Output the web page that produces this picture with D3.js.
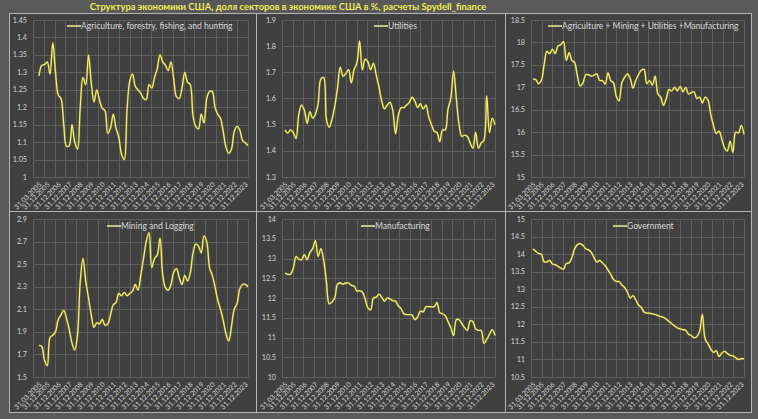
<!DOCTYPE html>
<html><head><meta charset="utf-8">
<script src="https://cdn.jsdelivr.net/npm/d3@7"></script>
<style>
html,body{margin:0;padding:0;background:#5a5a5a;}
svg{display:block;font-family:Lato,"Open Sans",sans-serif;}
</style></head>
<body><svg id="c" width="758" height="419"></svg>
<script>
const chartTitle = "Структура экономики США, доля секторов в экономике США в %, расчеты Spydell_finance";
const xLabels = ["31.03.2005","31.12.2005","31.12.2006","31.12.2007","31.12.2008","31.12.2009","31.12.2010","31.12.2011","31.12.2012","31.12.2013","31.12.2014","31.12.2015","31.12.2016","31.12.2017","31.12.2018","31.12.2019","31.12.2020","31.12.2021","31.12.2022","31.12.2023"];
const xLabelIndex = [0,3,7,11,15,19,23,27,31,35,39,43,47,51,55,59,63,67,71,75];
const seriesNames = ["Agriculture, forestry, fishing, and hunting","Utilities","Agriculture + Mining + Utilities +Manufacturing","Mining and Logging","Manufacturing","Government"];

const agriculture = [1.29,1.32,1.322,1.33,1.295,1.385,1.30,1.235,1.225,1.15,1.088,1.09,1.15,1.10,1.08,1.20,1.285,1.265,1.35,1.27,1.215,1.25,1.22,1.197,1.19,1.125,1.14,1.18,1.14,1.115,1.065,1.05,1.19,1.275,1.295,1.26,1.25,1.24,1.225,1.222,1.265,1.255,1.285,1.31,1.35,1.33,1.32,1.305,1.33,1.28,1.23,1.225,1.255,1.30,1.272,1.265,1.175,1.145,1.138,1.18,1.155,1.225,1.245,1.245,1.20,1.18,1.168,1.13,1.085,1.068,1.08,1.13,1.145,1.135,1.105,1.098,1.09];
const utilities = [1.48,1.468,1.48,1.47,1.447,1.54,1.575,1.555,1.505,1.55,1.525,1.54,1.58,1.675,1.68,1.52,1.49,1.52,1.57,1.64,1.72,1.685,1.695,1.71,1.66,1.71,1.735,1.82,1.71,1.75,1.74,1.71,1.735,1.69,1.645,1.59,1.56,1.575,1.585,1.555,1.465,1.535,1.565,1.565,1.575,1.585,1.605,1.59,1.565,1.58,1.56,1.575,1.53,1.50,1.475,1.47,1.435,1.48,1.48,1.56,1.60,1.705,1.60,1.50,1.455,1.46,1.455,1.43,1.41,1.47,1.41,1.43,1.44,1.61,1.47,1.525,1.50];
const aggregate = [17.18,17.17,17.08,17.15,17.50,17.80,17.75,17.85,17.75,17.92,17.95,18.02,17.60,17.77,17.60,17.55,17.25,17.03,17.10,17.28,17.28,17.25,17.27,17.30,17.15,17.15,17.07,17.32,17.15,17.10,16.80,16.70,17.10,17.22,17.30,17.20,16.98,17.15,17.28,17.38,17.40,17.08,17.15,17.05,17.25,16.85,16.78,16.60,16.75,16.95,16.92,17.00,16.92,17.02,16.90,17.00,16.85,16.88,16.90,16.75,16.78,16.65,16.78,16.72,16.40,16.15,15.97,16.02,15.85,15.65,15.58,15.80,15.55,16.00,15.98,16.15,15.95];
const mining = [1.78,1.77,1.65,1.60,1.85,1.87,1.90,2.01,2.05,2.09,2.02,1.92,1.80,1.74,1.87,2.35,2.55,2.35,2.20,2.05,1.94,1.98,1.97,2.01,1.96,1.97,2.05,2.14,2.16,2.24,2.22,2.25,2.22,2.24,2.26,2.32,2.27,2.40,2.55,2.70,2.78,2.47,2.55,2.58,2.73,2.40,2.29,2.27,2.32,2.43,2.46,2.38,2.32,2.40,2.35,2.42,2.60,2.68,2.66,2.60,2.75,2.70,2.47,2.40,2.30,2.18,2.10,2.00,1.88,1.82,1.95,2.10,2.15,2.28,2.32,2.32,2.30];
const manufacturing = [12.63,12.60,12.60,12.75,13.05,12.98,12.97,13.10,12.97,13.15,13.25,13.45,13.05,13.25,12.95,12.40,11.85,11.90,12.00,12.35,12.38,12.35,12.38,12.38,12.32,12.30,12.18,12.18,12.15,11.98,11.75,11.70,12.00,12.02,12.10,12.02,11.92,12.00,11.98,11.93,11.92,11.80,11.73,11.60,11.58,11.58,11.57,11.45,11.52,11.67,11.65,11.78,11.78,11.78,11.78,11.88,11.63,11.60,11.55,11.40,11.25,11.05,11.45,11.45,11.35,11.25,11.18,11.42,11.40,11.22,11.18,11.18,10.85,10.95,11.08,11.20,11.05];
const government = [14.15,14.08,14.02,14.00,13.78,13.78,13.82,13.72,13.70,13.65,13.60,13.57,13.73,13.75,13.90,14.15,14.27,14.30,14.25,14.15,14.12,14.05,13.90,13.77,13.82,13.75,13.67,13.55,13.42,13.28,13.22,13.22,13.12,13.05,12.92,12.75,12.82,12.70,12.55,12.48,12.35,12.32,12.32,12.30,12.28,12.25,12.22,12.20,12.15,12.08,12.02,11.95,11.90,11.87,11.85,11.83,11.72,11.68,11.62,11.65,11.80,12.28,11.58,11.45,11.30,11.20,11.25,11.08,11.18,11.23,11.17,11.12,11.10,11.05,11.00,11.02,11.02];

const agricultureTicks = [1,1.05,1.1,1.15,1.2,1.25,1.3,1.35,1.4,1.45];
const utilitiesTicks = [1.3,1.4,1.5,1.6,1.7,1.8,1.9];
const aggregateTicks = [15,15.5,16,16.5,17,17.5,18,18.5];
const miningTicks = [1.5,1.7,1.9,2.1,2.3,2.5,2.7,2.9];
const manufacturingTicks = [10,10.5,11,11.5,12,12.5,13,13.5,14];
const governmentTicks = [10.5,11,11.5,12,12.5,13,13.5,14,14.5,15];

const allSeries = [agriculture, utilities, aggregate, mining, manufacturing, government];
const allTicks = [agricultureTicks, utilitiesTicks, aggregateTicks, miningTicks, manufacturingTicks, governmentTicks];

// layout
const colX = [9, 256, 505, 751];
const rowY = [13, 211, 412];
const leftPad = [24, 26, 26];
const dataPad = [6, 3, 2];
const legendStart = [58, 118, 43, 98, 105, 108];

const svg = d3.select("#c");
svg.append("rect").attr("width",758).attr("height",419).attr("fill","#595959");

svg.append("text").attr("x",288).attr("y",10).attr("text-anchor","middle")
  .attr("font-size",9.4).attr("font-weight","bold").attr("fill","#ecec55")
  .text(chartTitle);

const fmt = v => String(+v.toFixed(2));

allSeries.forEach((vals, k) => {
  const col = k % 3, row = Math.floor(k / 3);
  const x0 = colX[col], x1 = colX[col+1], y0 = rowY[row], y1 = rowY[row+1];
  const g = svg.append("g");
  g.append("rect").attr("x",x0+0.5).attr("y",y0+0.5).attr("width",x1-x0).attr("height",y1-y0)
    .attr("fill","#404040").attr("stroke","#b4b4b4").attr("stroke-width",1);

  const pl = x0 + leftPad[col], pr = x0 + 239;
  const pt = y0 + (row ? 8 : 7), pb = y0 + (row ? 166 : 164);
  const ticks = allTicks[k];
  const y = d3.scaleLinear().domain([ticks[0], ticks[ticks.length-1]]).range([pb, pt]);
  const x = d3.scaleLinear().domain([0, vals.length-1]).range([pl + dataPad[col], pr]);

  g.selectAll(".hg").data(ticks).join("line")
    .attr("x1",pl).attr("x2",pr).attr("y1",d=>Math.round(y(d))+0.5).attr("y2",d=>Math.round(y(d))+0.5)
    .attr("stroke","#5e5e5e").attr("stroke-width",1);
  const vb = d3.range(21).map(i => pl + i*(pr-pl)/20);
  g.selectAll(".vg").data(vb).join("line")
    .attr("x1",d=>Math.round(d)+0.5).attr("x2",d=>Math.round(d)+0.5).attr("y1",pt).attr("y2",pb)
    .attr("stroke","#5e5e5e").attr("stroke-width",1);

  g.selectAll(".yl").data(ticks).join("text")
    .attr("x",pl-6).attr("y",d=>y(d)+2.5).attr("text-anchor","end")
    .attr("font-size",7.2).attr("fill","#d4d4d4").text(fmt);

  g.selectAll(".xl").data(xLabels).join("text")
    .attr("transform",(d,i)=>`translate(${x(xLabelIndex[i])+3},${pb+8}) rotate(-45)`)
    .attr("text-anchor","end").attr("font-size",6.9).attr("fill","#d4d4d4").text(d=>d);

  const line = d3.line().x((d,i)=>x(i)).y(d=>y(d)).curve(d3.curveCatmullRom.alpha(0.5));
  g.append("path").datum(vals).attr("d",line).attr("fill","none")
    .attr("stroke","#8a8a30").attr("stroke-width",2.4).attr("stroke-opacity",0.5);
  g.append("path").datum(vals).attr("d",line).attr("fill","none")
    .attr("stroke","#f2f06c").attr("stroke-width",1.3);

  const lx = x0 + legendStart[k], ly = y0 + (row ? 15 : 13);
  g.append("line").attr("x1",lx).attr("x2",lx+14).attr("y1",ly).attr("y2",ly)
    .attr("stroke","#e4e49a").attr("stroke-width",1.6);
  g.append("text").attr("x",lx+14).attr("y",ly+3).attr("font-size",8.5).attr("fill","#d8d8d8")
    .text(seriesNames[k]);
});
</script></body></html>
